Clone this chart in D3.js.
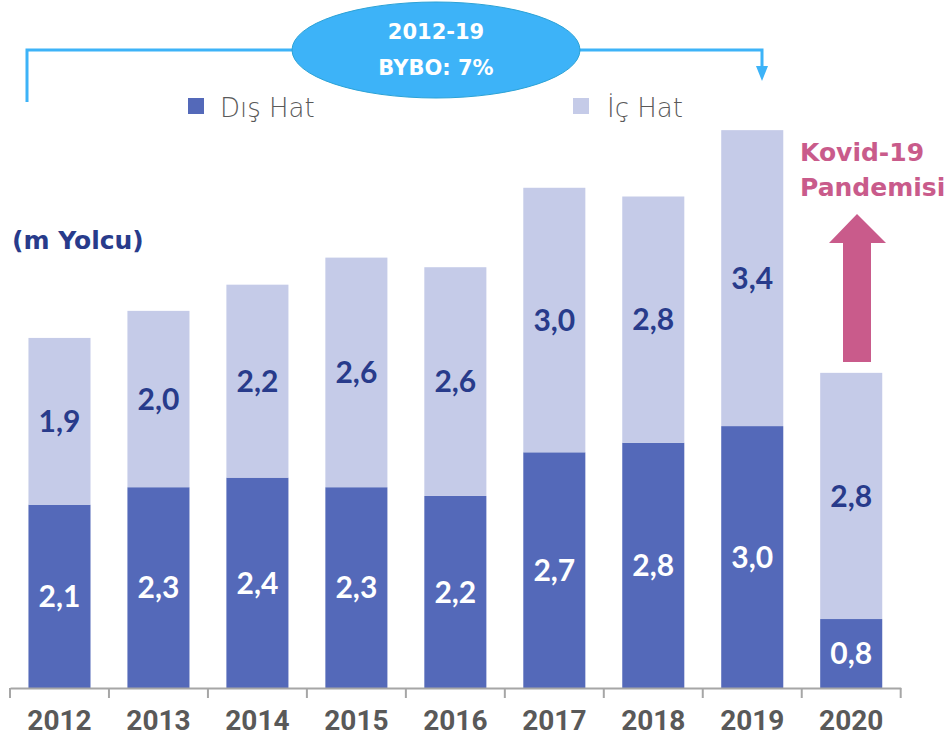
<!DOCTYPE html>
<html>
<head>
<meta charset="utf-8">
<script src="https://cdn.jsdelivr.net/npm/d3@7"></script>
<style>
  body { margin: 0; background: #fff; }
  svg { display: block; }
</style>
</head>
<body>
<div id="chart"></div>
<script>
// values (m Yolcu)
const years = ["2012", "2013", "2014", "2015", "2016", "2017", "2018", "2019", "2020"];
const disHat = [2.10, 2.30, 2.41, 2.30, 2.20, 2.70, 2.81, 3.00, 0.79];
const icHat = [1.91, 2.02, 2.21, 2.63, 2.62, 3.03, 2.82, 3.39, 2.82];
const seriesNames = ["Dış Hat", "İç Hat"];

const colors = { dis: "#5469B9", ic: "#C5CBE8", navy: "#283B8B", grey: "#595959",
                 axis: "#A6A6A6", sky: "#3DB3F8", pink: "#C95B8B" };

const width = 944, height = 746;
const baseY = 688;

const svg = d3.select("#chart").append("svg")
    .attr("width", width)
    .attr("height", height);

const x = d3.scaleBand()
    .domain(years)
    .range([10, 900.7])
    .paddingInner(0.373)
    .paddingOuter(0.1865);

const y = d3.scaleLinear()
    .domain([0, 7])
    .range([baseY, baseY - 7 * 87.3]);

const data = years.map((yr, i) => ({ year: yr, dis: disHat[i], ic: icHat[i] }));
const stacked = d3.stack().keys(["dis", "ic"])(data);

// bars
svg.append("g").selectAll("g")
    .data(stacked)
    .join("g")
    .attr("fill", d => colors[d.key])
    .selectAll("rect")
    .data(d => d)
    .join("rect")
    .attr("x", d => x(d.data.year))
    .attr("width", x.bandwidth())
    .attr("y", d => y(d[1]))
    .attr("height", d => y(d[0]) - y(d[1]));

// value labels
const fmt = v => d3.format(".1f")(v).replace(".", ",");
svg.append("g").selectAll("g")
    .data(stacked)
    .join("g")
    .attr("fill", d => d.key === "dis" ? "#fff" : colors.navy)
    .selectAll("text")
    .data(d => d)
    .join("text")
    .attr("x", d => x(d.data.year) + x.bandwidth() / 2)
    .attr("y", d => (y(d[0]) + y(d[1])) / 2)
    .attr("dy", "0.36em")
    .attr("text-anchor", "middle")
    .style("font-family", "Lato, sans-serif")
    .style("font-weight", "bold")
    .style("font-size", "30px")
    .text(d => fmt(d[1] - d[0]));

// axis
const xAxis = d3.axisBottom(x).tickSize(0).tickPadding(22);
const axisG = svg.append("g")
    .attr("transform", "translate(0," + baseY + ")")
    .call(xAxis);
axisG.select(".domain").attr("stroke", colors.axis).attr("stroke-width", 2);
axisG.selectAll("text")
    .attr("fill", colors.grey)
    .style("font-family", "Roboto, sans-serif")
    .style("font-weight", "bold")
    .style("font-size", "28px");

const bounds = years.map(d => x(d) - x.step() * x.paddingInner() / 2);
bounds.push(x.range()[1]);
axisG.selectAll(".sep")
    .data(bounds)
    .join("line")
    .attr("class", "sep")
    .attr("x1", d => d).attr("x2", d => d)
    .attr("y1", 0).attr("y2", 10)
    .attr("stroke", colors.axis)
    .attr("stroke-width", 2);

// unit label
svg.append("text")
    .attr("x", 12)
    .attr("y", 249)
    .attr("fill", colors.navy)
    .style("font-family", "'DejaVu Sans', sans-serif")
    .style("font-weight", "bold")
    .style("font-size", "25px")
    .text("(m Yolcu)");

// legend
const legend = svg.append("g")
    .style("font-family", "'DejaVu Sans', sans-serif")
    .style("font-weight", 200)
    .style("font-size", "26px");
const legendX = [188, 573];
const legendTextX = [220, 607];
seriesNames.forEach((name, i) => {
    legend.append("rect")
        .attr("x", legendX[i]).attr("y", 98)
        .attr("width", 16).attr("height", 16)
        .attr("fill", i === 0 ? colors.dis : colors.ic);
    legend.append("text")
        .attr("x", legendTextX[i]).attr("y", 117)
        .attr("fill", colors.grey)
        .text(name);
});

// CAGR bracket
const bracket = svg.append("g");
bracket.append("path")
    .attr("d", "M27,102 V50 H762 V70")
    .attr("fill", "none")
    .attr("stroke", colors.sky)
    .attr("stroke-width", 3);
bracket.append("path")
    .attr("d", "M756,66 L768,66 L762,81 Z")
    .attr("fill", colors.sky);
bracket.append("ellipse")
    .attr("cx", 436).attr("cy", 50)
    .attr("rx", 144).attr("ry", 48)
    .attr("fill", colors.sky)
    .attr("stroke", "#2BA2D6")
    .attr("stroke-width", 1);
bracket.selectAll("text")
    .data(["2012-19", "BYBO: 7%"])
    .join("text")
    .attr("x", 436)
    .attr("y", (d, i) => 39 + i * 36)
    .attr("text-anchor", "middle")
    .attr("fill", "#fff")
    .style("font-family", "'DejaVu Sans', sans-serif")
    .style("font-weight", "bold")
    .style("font-size", "21px")
    .text(d => d);

// pandemic note
svg.selectAll(".kovid")
    .data(["Kovid-19", "Pandemisi"])
    .join("text")
    .attr("class", "kovid")
    .attr("x", 800)
    .attr("y", (d, i) => 161 + i * 35)
    .attr("fill", colors.pink)
    .style("font-family", "'DejaVu Sans', sans-serif")
    .style("font-weight", "bold")
    .style("font-size", "25px")
    .text(d => d);

svg.append("path")
    .attr("d", "M843,362 V243 H829 L857,214 L886,243 H871 V362 Z")
    .attr("fill", colors.pink);
</script>
</body>
</html>
